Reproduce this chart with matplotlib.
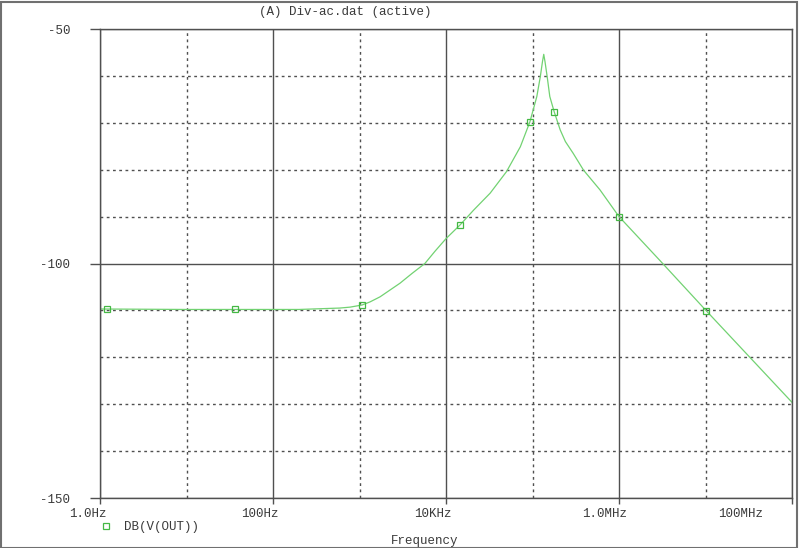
"""
PSpice-style AC plot: DB(V(OUT)) vs frequency
"""

import matplotlib
matplotlib.use('Agg')
import matplotlib.pyplot as plt
from matplotlib.patches import Rectangle
from matplotlib.transforms import ScaledTranslation
from matplotlib.ticker import FixedLocator, NullFormatter

# Curve (Hz, dB)
freq = [1, 10, 100, 200, 590, 780, 1070, 1320, 1730, 2940, 4060, 5700, 7450,
        10000, 14500, 20900, 32400, 50100, 72400, 93300, 112200, 123000,
        130300, 134900, 139600, 147900, 158500, 177800, 208900, 240000,
        295100, 389000, 602600, 1000000, 2951000, 10230000, 100000000]
db = [-109.7, -109.8, -109.8, -109.8, -109.5, -109.3, -108.85, -108.2, -107.1,
      -104.2, -102.1, -100.0, -97.4, -94.7, -91.8, -88.6, -85.0, -80.4, -75.1,
      -69.8, -64.4, -60.2, -57.0, -55.4, -57.0, -60.2, -64.4, -67.6, -71.5,
      -74.0, -76.5, -80.1, -84.3, -90.0, -99.3, -110.1, -129.6]

# Square markers along the trace
marker_freq = [1.2, 36, 1070, 14500, 93300, 177800, 1000000, 10200000]
marker_db = [-109.6, -109.8, -108.85, -91.8, -69.8, -67.6, -90.0, -110.1]

x_ticks = [1, 1e2, 1e4, 1e6, 1e8]
x_labels = ['1.0Hz', '100Hz', '10KHz', '1.0MHz', '100MHz']
x_label_shift = [-12, -13, -13, -14, -51]  # pixels
x_minor = [10, 1e3, 1e5, 1e7]
y_ticks = [-150, -100, -50]
y_minor = [-140, -130, -120, -110, -90, -80, -70, -60]

title = '(A) Div-ac.dat (active)'
trace_name = 'DB(V(OUT))'
x_title = 'Frequency'

plt.rcParams['font.family'] = ['Liberation Mono', 'DejaVu Sans Mono']
plt.rcParams['font.size'] = 9

fig = plt.figure(figsize=(8, 5.48), dpi=100)
ax = fig.add_axes([100 / 800, 1 - 498 / 548, 692 / 800, 469 / 548])

line_green = '#72d272'
mark_green = '#44b844'
grid_col = '#505050'
text_col = '#3a3a3a'

ax.plot(freq, db, color=line_green, lw=0.9, solid_joinstyle='round')
ax.plot(marker_freq, marker_db, ls='none', marker='s', ms=4.5, mfc='none',
        mec=mark_green, mew=0.9)
legend_handle, = ax.plot([], [], ls='none', marker='s', ms=4.5, mfc='none',
                         mec=mark_green, mew=0.9, label=trace_name)

ax.set_xscale('log')
ax.set_xlim(1, 1e8)
ax.set_ylim(-150, -50)

ax.xaxis.set_major_locator(FixedLocator(x_ticks))
ax.xaxis.set_minor_locator(FixedLocator(x_minor))
ax.xaxis.set_minor_formatter(NullFormatter())
ax.set_xticklabels(x_labels)
ax.yaxis.set_major_locator(FixedLocator(y_ticks))
ax.yaxis.set_minor_locator(FixedLocator(y_minor))
ax.set_yticklabels([str(v) for v in y_ticks])

ax.grid(which='major', color=grid_col, lw=1.0, ls='-')
ax.grid(which='minor', color=grid_col, lw=1.0, ls=(0, (2, 2.5)))
ax.set_axisbelow(True)

ax.tick_params(which='major', axis='y', direction='out', length=7.5,
               width=1.0, color=grid_col, pad=14, labelcolor=text_col)
ax.tick_params(which='major', axis='x', direction='out', length=4,
               width=1.0, color=grid_col, pad=3, labelcolor=text_col)
ax.tick_params(which='minor', length=0)
for spine in ax.spines.values():
    spine.set_color(grid_col)
    spine.set_linewidth(1.0)

for lab, dx in zip(ax.get_xticklabels(), x_label_shift):
    lab.set_transform(lab.get_transform() +
                      ScaledTranslation(dx / 100, 0, fig.dpi_scale_trans))

ax.legend(handles=[legend_handle], loc='center left',
          bbox_to_anchor=(99.5 / 800, 1 - 527 / 548),
          bbox_transform=fig.transFigure, frameon=False, handlelength=1.0,
          handletextpad=0.95, borderpad=0, borderaxespad=0,
          labelcolor=text_col)

fig.text(345 / 800, 1 - 12 / 548, title, ha='center', va='center',
         color=text_col)
fig.text(425 / 800, 1 - 541 / 548, x_title, ha='center', va='center',
         color=text_col)

# window frame
fig.patches.append(Rectangle((1 / 800, 0), 796 / 800, 546 / 548,
                             transform=fig.transFigure, fill=False,
                             edgecolor='#707070', lw=1.5))

fig.savefig('out.png', dpi=100)
